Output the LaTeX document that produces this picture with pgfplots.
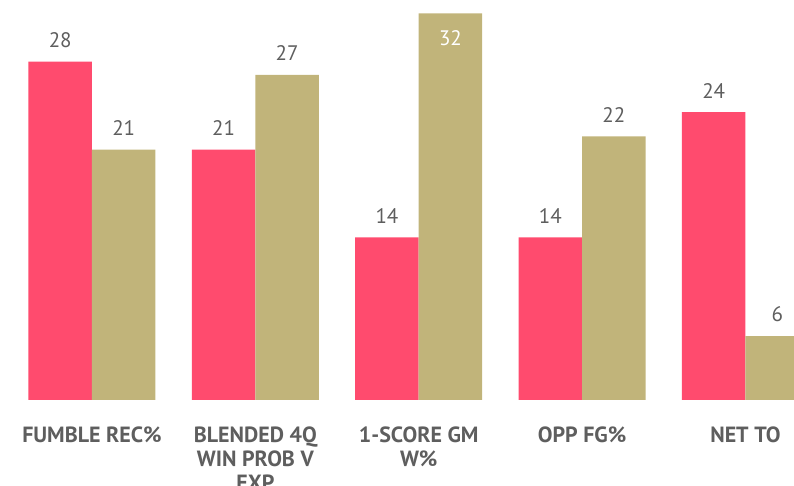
\documentclass[border=0pt]{standalone}
\usepackage{pgfplots}
\pgfplotsset{compat=1.18}
\usepackage{pgfplotstable}
\usepackage{fontspec}
\setmainfont{PT Sans}
\definecolor{pinkbar}{HTML}{FF4B6E}
\definecolor{tanbar}{HTML}{C1B47A}
\definecolor{txtgray}{HTML}{5E5E5E}
\pgfplotstableread{
x y label
0 28.1 28
1 20.8 21
2 13.5 14
3 13.5 14
4 23.9 24
}\pinkdata
\pgfplotstableread{
x y label
0 20.8 21
1 27 27
2 32.1 {}
3 21.9 22
4 5.3 6
}\tandata
\begin{document}
\begin{tikzpicture}
\useasboundingbox (0,0) rectangle (794pt,486pt);
\clip (0,0) rectangle (794pt,486pt);
\begin{axis}[
  at={(0pt,86pt)}, anchor=south west,
  scale only axis, width=794pt, height=400pt,
  xmin=-0.563, xmax=4.297, ymin=0, ymax=33.22,
  ybar=0pt, bar width=63.5pt,
  axis line style={draw=none},
  ymajorticks=false,
  xtick={0,1,2,3,4},
  xticklabels={FUMBLE REC\%, {BLENDED 4Q\\WIN PROB V\\EXP}, {1-SCORE GM\\W\%}, OPP FG\%, NET TO},
  major tick length=0pt,
  xticklabel style={font=\fontsize{22}{24}\selectfont\bfseries, text=txtgray, align=center, yshift=-23pt},
  nodes near coords,
  point meta=explicit symbolic,
  every node near coord/.append style={font=\fontsize{21}{24}\selectfont, text=txtgray, anchor=south, inner sep=0pt, yshift=14pt},
  clip=false,
]
\addplot[draw=none, fill=pinkbar] table[x=x, y=y, meta=label] {\pinkdata};
\addplot[draw=none, fill=tanbar] table[x=x, y=y, meta=label] {\tandata};
\node[text=white, font=\fontsize{21}{24}\selectfont, anchor=north, inner sep=0pt] at ([xshift=31.75pt, yshift=-17pt]axis cs:2,32.1) {32};
\end{axis}
\end{tikzpicture}
\end{document}
